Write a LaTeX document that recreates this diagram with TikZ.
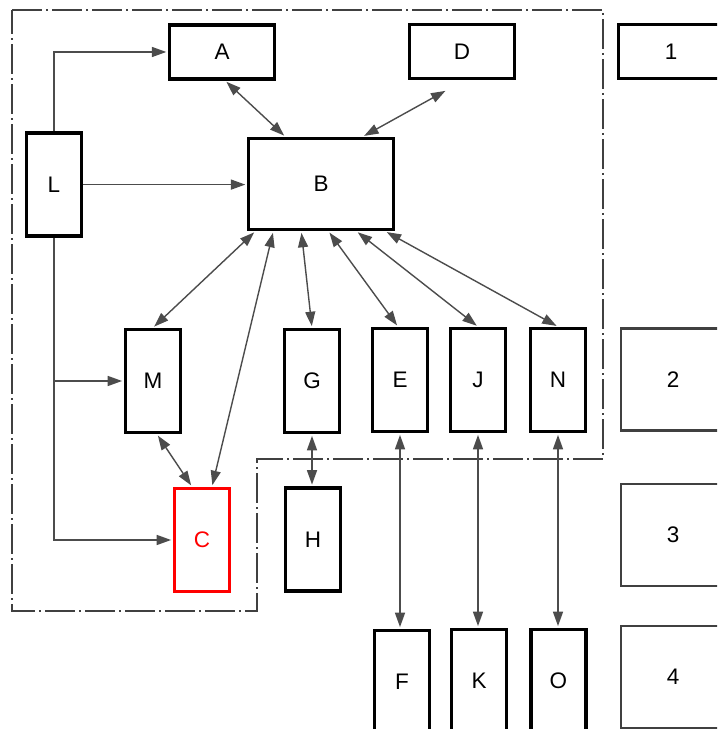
\documentclass[tikz,border=0pt]{standalone}
\usepackage{fontspec}
\setmainfont{Liberation Sans}
\usetikzlibrary{arrows.meta}
\tikzset{
box/.style={draw, line width=0.085cm, minimum width=1.38cm, minimum height=2.58cm,
  inner sep=0pt, font=\fontsize{16}{19}\selectfont},
widebox/.style={box, minimum width=2.62cm, minimum height=1.35cm},
sidebox/.style={box, draw=black!75, line width=0.06cm, minimum width=2.6cm, minimum height=2.55cm},
link/.style={draw=black!70, line width=0.035cm, shorten >=0.04cm,
  -{Triangle[length=0.36cm,width=0.25cm]}},
twoway/.style={link, shorten <=0.04cm,
  {Triangle[length=0.36cm,width=0.25cm]}-{Triangle[length=0.36cm,width=0.25cm]}},
border/.style={draw=black!75, line width=0.035cm,
  dash pattern=on 0.75cm off 0.1cm on 0.05cm off 0.1cm}
}
\begin{document}
\begin{tikzpicture}
\useasboundingbox (0,0) rectangle (17.925,18.225);
\clip (0,0) rectangle (17.925,18.225);

\draw[border] (0.3,17.975) -- (15.075,17.975) -- (15.075,6.75) -- (6.425,6.75)
  -- (6.425,2.95) -- (0.3,2.95) -- cycle;

\node[widebox] (A) at (5.55,16.925) {A};
\node[widebox] (D) at (11.55,16.94) {D};
\node[widebox] (one) at (16.775,16.94) {1};
\node[box] (L) at (1.35,13.61) {L};
\node[box, minimum width=3.62cm, minimum height=2.28cm] (B) at (8.025,13.625) {B};
\node[box] (M) at (3.825,8.7) {M};
\node[box] (G) at (7.8,8.7) {G};
\node[box] (E) at (10.0,8.725) {E};
\node[box] (J) at (11.95,8.725) {J};
\node[box] (N) at (13.95,8.725) {N};
\node[sidebox] (two) at (16.825,8.7375) {2};
\node[box, draw=red, text=red] (C) at (5.05,4.725) {C};
\node[box] (H) at (7.825,4.7375) {H};
\node[sidebox] (three) at (16.825,4.85) {3};
\node[box] (F) at (10.05,1.175) {F};
\node[box] (K) at (11.975,1.2) {K};
\node[box] (O) at (13.96,1.2) {O};
\node[sidebox] (four) at (16.825,1.3) {4};

\draw[link] (L.north) |- (A.west);
\draw[link] (L.east) -- (L.east -| B.west);
\draw[link] (L.south) |- (C.west);
\draw[link] (L.south |- M.west) -- (M.west);

\draw[twoway] ([xshift=0.08cm]A.south) -- ([xshift=0.96cm]B.north west);
\draw[twoway] ([xshift=-0.38cm,yshift=-0.25cm]D.south) -- ([xshift=-0.81cm]B.north east);
\draw[twoway] ([xshift=0.21cm]B.south west) -- (M.north);
\draw[twoway] ([xshift=0.66cm]B.south west) -- ([xshift=0.25cm]C.north);
\draw[twoway] ([xshift=1.36cm]B.south west) -- (G.north);
\draw[twoway] ([xshift=2.04cm]B.south west) -- ([xshift=-0.05cm]E.north);
\draw[twoway] ([xshift=2.74cm]B.south west) -- (J.north);
\draw[twoway] ([xshift=3.46cm]B.south west) -- (N.north);
\draw[twoway] ([xshift=0.1cm]M.south) -- ([xshift=-0.25cm]C.north);
\draw[twoway] (G.south) -- (G.south |- H.north);
\draw[twoway] (E.south) -- (E.south |- F.north);
\draw[twoway] (J.south) -- (J.south |- K.north);
\draw[twoway] (N.south) -- (N.south |- O.north);
\end{tikzpicture}
\end{document}
